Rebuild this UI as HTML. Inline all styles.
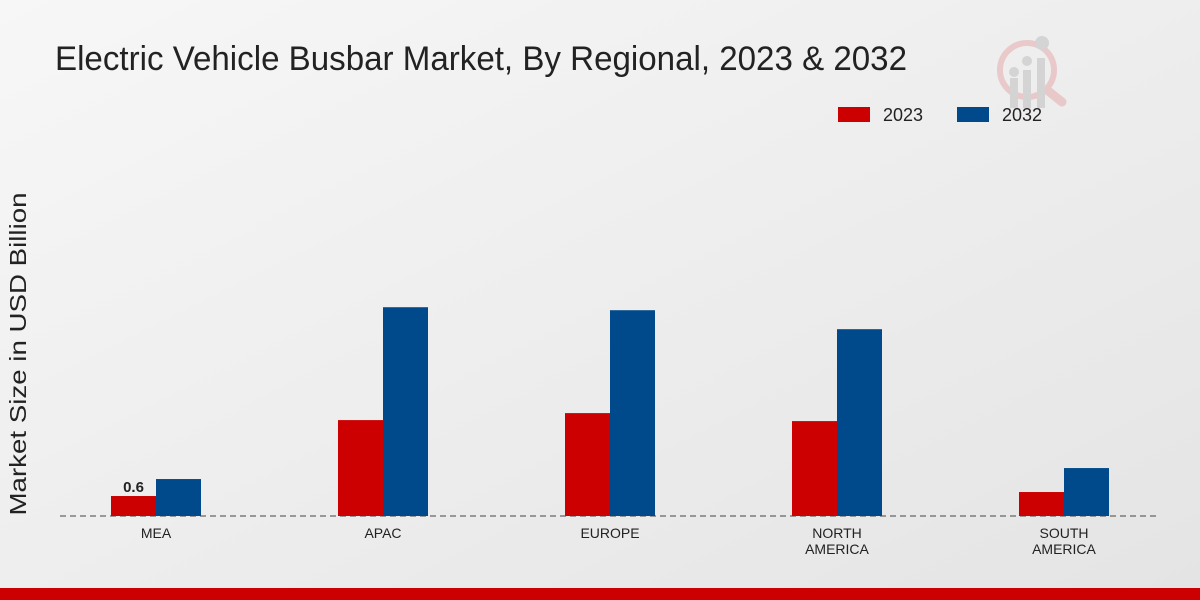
<!DOCTYPE html>
<html><head><meta charset="utf-8"><style>
html,body{margin:0;padding:0;width:1200px;height:600px;overflow:hidden;font-family:"Liberation Sans",sans-serif}
</style></head><body>
<svg width="1200" height="600" xmlns="http://www.w3.org/2000/svg">
<defs><linearGradient id="bg" x1="0" y1="0" x2="1" y2="1"><stop offset="0" stop-color="#f7f7f7"/><stop offset="1" stop-color="#e4e4e4"/></linearGradient></defs>
<rect width="1200" height="600" fill="url(#bg)"/>
<rect x="0" y="588" width="1200" height="12" fill="#cc0000"/>
<text x="55" y="70" font-size="34" fill="#222" textLength="852" lengthAdjust="spacingAndGlyphs">Electric Vehicle Busbar Market, By Regional, 2023 &amp; 2032</text>
<g opacity="0.5">
<circle cx="1027" cy="70" r="27" fill="none" stroke="#e5a5a5" stroke-width="6"/>
<line x1="1047" y1="90" x2="1062" y2="102" stroke="#e5a5a5" stroke-width="9" stroke-linecap="round"/>
<rect x="1010" y="78" width="8" height="30" fill="#bbb"/><rect x="1023" y="70" width="8" height="38" fill="#bbb"/><rect x="1037" y="58" width="8" height="50" fill="#bbb"/>
<circle cx="1014" cy="72" r="5" fill="#bbb"/><circle cx="1027" cy="61" r="5" fill="#bbb"/><circle cx="1042" cy="43" r="7" fill="#bbb"/>
</g>
<g>
<rect x="838" y="107" width="32" height="15" fill="#cc0000"/>
<text x="883" y="121" font-size="18" fill="#222">2023</text>
<rect x="957" y="107" width="32" height="15" fill="#004a8c"/>
<text x="1002" y="121" font-size="18" fill="#222">2032</text>
</g>
<text transform="translate(26,354) rotate(-90)" text-anchor="middle" font-size="23" fill="#222" textLength="323" lengthAdjust="spacingAndGlyphs">Market Size in USD Billion</text>
<line x1="60" y1="516" x2="1160" y2="516" stroke="#444" stroke-dasharray="6,4"/>
<g id="bars"></g>
</svg>
<script>
const categories=[["MEA"],["APAC"],["EUROPE"],["NORTH","AMERICA"],["SOUTH","AMERICA"]];
const values2023=[0.6,2.88,3.09,2.85,0.72];
const values2032=[1.11,6.27,6.18,5.61,1.44];
const NS="http://www.w3.org/2000/svg";
const g=document.getElementById('bars');
const base=516,scale=33.3,x0=156,step=227,bw=45;
const y=v=>base-v*scale;
function mk(t,a){const e=document.createElementNS(NS,t);for(const k in a)e.setAttribute(k,a[k]);g.appendChild(e);return e;}
categories.forEach((c,i)=>{
 const cx=x0+i*step;
 const r=mk('rect',{x:cx-bw,y:y(values2023[i]),width:bw,height:values2023[i]*scale,fill:'#cc0000'});
 
 
 const b=mk('rect',{x:cx,y:y(values2032[i]),width:bw,height:values2032[i]*scale,fill:'#004a8c'});
 
 
 c.forEach((line,j)=>{
  const t=mk('text',{x:cx,y:538+j*16,'text-anchor':'middle','font-size':14,fill:'#222'});
  t.textContent=line;
  
  
 });
});
const lbl=mk('text',{x:x0-bw/2,y:y(values2023[0])-4,'text-anchor':'middle','font-size':15,'font-weight':'bold',fill:'#222'});
lbl.textContent=String(values2023[0]);


</script>
</body></html>
